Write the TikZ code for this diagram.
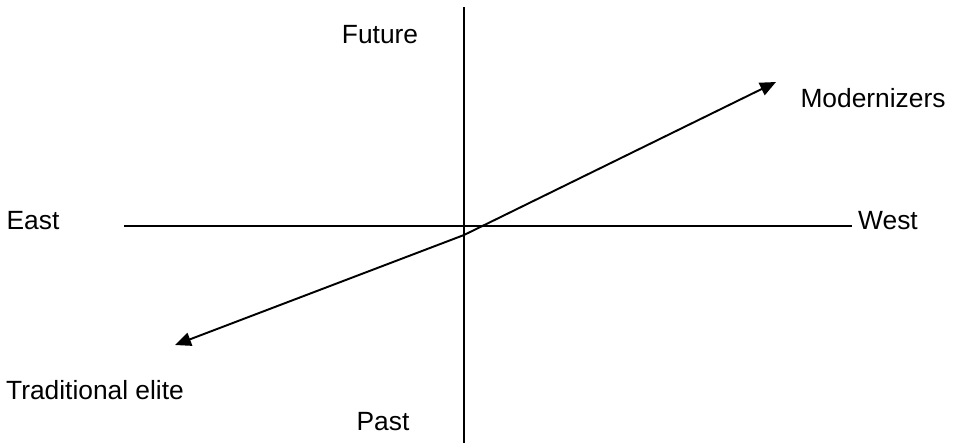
\documentclass[tikz,border=0pt]{standalone}
\usepackage{fontspec}
\setmainfont{Liberation Sans}
\usetikzlibrary{arrows.meta}

\begin{document}
\begin{tikzpicture}[x=0.02cm, y=-0.02cm,
    axis/.style={line width=0.8pt},
    trend/.style={line width=1.1pt, {Triangle[length=0.32cm,width=0.27cm]}-{Triangle[length=0.32cm,width=0.27cm]}},
    lbl/.style={font=\fontsize{15}{17}\selectfont, inner sep=0pt}]
\useasboundingbox (0,0) rectangle (956,443);

% ---- axes
\coordinate (top) at (464,7);
\coordinate (bot) at (464,443);
\coordinate (lft) at (124,226);
\coordinate (rgt) at (852,226);
\draw[axis] (top) -- (bot);
\draw[axis] (lft) -- (rgt);

% ---- labels
\node[lbl] (future) at (380,35) {Future};
\node[lbl] (past) at (383,422) {Past};
\node[lbl] (east) at (33,221) {East};
\node[lbl] (west) at (888,221) {West};
\node[lbl] (modern) at (873,98) {Modernizers};
\node[lbl] (trad) at (95,390) {Traditional elite};

% ---- the two groups
\coordinate (tradend) at (175,345);
\coordinate (kink) at (464,235);
\coordinate (modend) at (776,82);
\draw[trend] (tradend) -- (kink) -- (modend);
\end{tikzpicture}
\end{document}
